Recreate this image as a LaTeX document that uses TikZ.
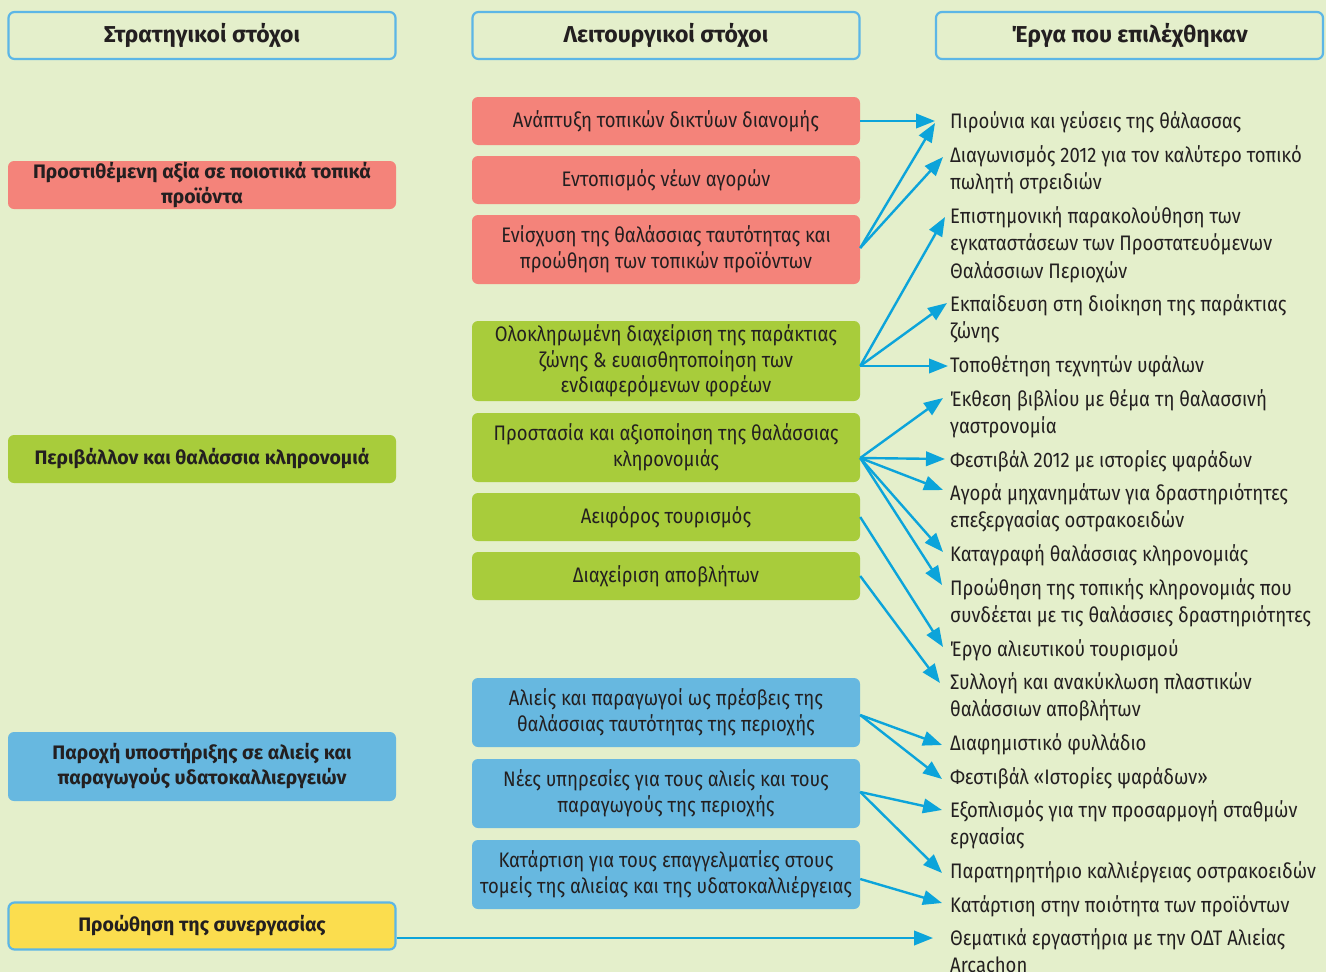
\documentclass[tikz,border=0pt]{standalone}
\usepackage{fontspec}
\setmainfont{Fira Sans}[FakeStretch=0.88]
\newfontfamily\boldfam{Fira Sans}
\usetikzlibrary{arrows.meta}
\definecolor{bg}{RGB}{228,239,203}
\definecolor{hdrblue}{RGB}{92,182,230}
\definecolor{boxred}{RGB}{244,131,122}
\definecolor{boxgreen}{RGB}{168,204,59}
\definecolor{boxblue}{RGB}{103,184,224}
\definecolor{boxyellow}{RGB}{251,221,78}
\definecolor{arrowblue}{RGB}{12,164,218}
\definecolor{txt}{RGB}{35,31,32}
\begin{document}
\begin{tikzpicture}[x=1pt,y=-1pt,
  hdr/.style={draw=hdrblue, line width=2.2pt, rounded corners=6pt, fill=bg,
    minimum width=387pt, minimum height=47pt, inner sep=0pt, text=txt,
    font=\boldfam\bfseries\fontsize{23}{27}\selectfont},
  lbox/.style={rounded corners=6pt, minimum width=388pt, inner sep=0pt, align=center,
    text=txt, font=\boldfam\bfseries\fontsize{19.5}{25}\selectfont},
  mbox/.style={rounded corners=6pt, minimum width=388pt, inner sep=0pt, align=center,
    text=txt, font=\fontsize{21}{25.5}\selectfont},
  item/.style={anchor=north west, inner sep=0pt, align=left, text=txt,
    font=\fontsize{21}{27.5}\selectfont},
  arr/.style={draw=arrowblue, line width=2.4pt, -{Triangle[length=19pt,width=14.5pt]}}
]
\fill[bg] (0,0) rectangle (1326,972);
\useasboundingbox (0,0) rectangle (1326,972);

% headers
\node[hdr] (h1) at (202,35.5) {Στρατηγικοί στόχοι};
\node[hdr] (h2) at (666,35.5) {Λειτουργικοί στόχοι};
\node[hdr] (h3) at (1129.5,35.5) {Έργα που επιλέχθηκαν};

% strategic goals
\node[lbox, fill=boxred, minimum height=48pt] (l1) at (202,185) {Προστιθέμενη αξία σε ποιοτικά τοπικά\\προϊόντα};
\node[lbox, fill=boxgreen, minimum height=48pt] (l2) at (202,459) {Περιβάλλον και θαλάσσια κληρονομιά};
\node[lbox, fill=boxblue, minimum height=69pt] (l3) at (202,766.5) {Παροχή υποστήριξης σε αλιείς και\\παραγωγούς υδατοκαλλιεργειών};
\node[lbox, fill=boxyellow, draw=hdrblue, line width=2.2pt, minimum width=387pt, minimum height=47pt] (l4) at (202,926) {Προώθηση της συνεργασίας};

% operational goals
\node[mbox, fill=boxred, minimum height=48pt] (m1) at (666,121) {Ανάπτυξη τοπικών δικτύων διανομής};
\node[mbox, fill=boxred, minimum height=48pt] (m2) at (666,180) {Εντοπισμός νέων αγορών};
\node[mbox, fill=boxred, minimum height=69pt] (m3) at (666,249.5) {Ενίσχυση της θαλάσσιας ταυτότητας και\\προώθηση των τοπικών προϊόντων};
\node[mbox, fill=boxgreen, minimum height=80pt] (m4) at (666,361) {Ολοκληρωμένη διαχείριση της παράκτιας\\ζώνης \& ευαισθητοποίηση των\\ενδιαφερόμενων φορέων};
\node[mbox, fill=boxgreen, minimum height=69pt] (m5) at (666,447.5) {Προστασία και αξιοποίηση της θαλάσσιας\\κληρονομιάς};
\node[mbox, fill=boxgreen, minimum height=48pt] (m6) at (666,517) {Αειφόρος τουρισμός};
\node[mbox, fill=boxgreen, minimum height=48pt] (m7) at (666,576) {Διαχείριση αποβλήτων};
\node[mbox, fill=boxblue, minimum height=69pt] (m8) at (666,712.5) {Αλιείς και παραγωγοί ως πρέσβεις της\\θαλάσσιας ταυτότητας της περιοχής};
\node[mbox, fill=boxblue, minimum height=69pt] (m9) at (666,793.5) {Νέες υπηρεσίες για τους αλιείς και τους\\παραγωγούς της περιοχής};
\node[mbox, fill=boxblue, minimum height=69pt] (m10) at (666,874.5) {Κατάρτιση για τους επαγγελματίες στους\\τομείς της αλιείας και της υδατοκαλλιέργειας};

% selected projects
\node[item] (t1) at (950,109) {\strut Πιρούνια και γεύσεις της θάλασσας};
\node[item] (t2) at (950,143) {\strut Διαγωνισμός 2012 για τον καλύτερο τοπικό\\πωλητή στρειδιών};
\node[item] (t3) at (950,204) {\strut Επιστημονική παρακολούθηση των\\εγκαταστάσεων των Προστατευόμενων\\Θαλάσσιων Περιοχών};
\node[item] (t4) at (950,292) {\strut Εκπαίδευση στη διοίκηση της παράκτιας\\ζώνης};
\node[item] (t5) at (950,353) {\strut Τοποθέτηση τεχνητών υφάλων};
\node[item] (t6) at (950,387) {\strut Έκθεση βιβλίου με θέμα τη θαλασσινή\\γαστρονομία};
\node[item] (t7) at (950,448) {\strut Φεστιβάλ 2012 με ιστορίες ψαράδων};
\node[item] (t8) at (950,481) {\strut Αγορά μηχανημάτων για δραστηριότητες\\επεξεργασίας οστρακοειδών};
\node[item] (t9) at (950,542) {\strut Καταγραφή θαλάσσιας κληρονομιάς};
\node[item] (t10) at (950,576) {\strut Προώθηση της τοπικής κληρονομιάς που\\συνδέεται με τις θαλάσσιες δραστηριότητες};
\node[item] (t11) at (950,637) {\strut Έργο αλιευτικού τουρισμού};
\node[item] (t12) at (950,670) {\strut Συλλογή και ανακύκλωση πλαστικών\\θαλάσσιων αποβλήτων};
\node[item] (t13) at (950,731) {\strut Διαφημιστικό φυλλάδιο};
\node[item] (t14) at (950,765) {\strut Φεστιβάλ «Ιστορίες ψαράδων»};
\node[item] (t15) at (950,798) {\strut Εξοπλισμός για την προσαρμογή σταθμών\\εργασίας};
\node[item] (t16) at (950,859) {\strut Παρατηρητήριο καλλιέργειας οστρακοειδών};
\node[item] (t17) at (950,893) {\strut Κατάρτιση στην ποιότητα των προϊόντων};
\node[item] (t18) at (950,926) {\strut Θεματικά εργαστήρια με την ΟΔΤ Αλιείας\\Arcachon};

% connectors
\draw[arr] (m1.east) -- ([shift={(-15,12)}]t1.north west);
\draw[arr] ([yshift=1.5pt]m3.east) -- ([shift={(-15,14)}]t1.north west);
\draw[arr] ([yshift=1.5pt]m3.east) -- ([shift={(-7,14)}]t2.north west);
\draw[arr] ([yshift=-5pt]m4.east) -- ([shift={(-5,13)}]t3.north west);
\draw[arr] ([yshift=-5pt]m4.east) -- ([shift={(-3,11)}]t4.north west);
\draw[arr] ([yshift=-5pt]m4.east) -- ([shift={(-2,13)}]t5.north west);
\draw[arr] ([yshift=-10.5pt]m5.east) -- ([shift={(-7,11)}]t6.north west);
\draw[arr] ([yshift=-10.5pt]m5.east) -- ([shift={(-5,11)}]t7.north west);
\draw[arr] ([yshift=-10.5pt]m5.east) -- ([shift={(-7,9)}]t8.north west);
\draw[arr] ([yshift=-10.5pt]m5.east) -- ([shift={(-7,10)}]t9.north west);
\draw[arr] ([yshift=-10.5pt]m5.east) -- ([shift={(-8,9)}]t10.north west);
\draw[arr] (m6.east) -- ([shift={(-7,10)}]t11.north west);
\draw[arr] (m7.east) -- ([shift={(-10,13)}]t12.north west);
\draw[arr] ([yshift=-2.5pt]m8.east) -- ([shift={(-8,14)}]t13.north west);
\draw[arr] ([yshift=-2.5pt]m8.east) -- ([shift={(-8,14)}]t14.north west);
\draw[arr] ([yshift=1.5pt]m9.east) -- ([shift={(-8,12)}]t15.north west);
\draw[arr] ([yshift=1.5pt]m9.east) -- ([shift={(-8,14)}]t16.north west);
\draw[arr] ([yshift=-4.5pt]m10.east) -- ([shift={(-8,10)}]t17.north west);
\draw[arr] ([yshift=-12pt]l4.east) -- ([shift={(-17,12)}]t18.north west);
\end{tikzpicture}
\end{document}
